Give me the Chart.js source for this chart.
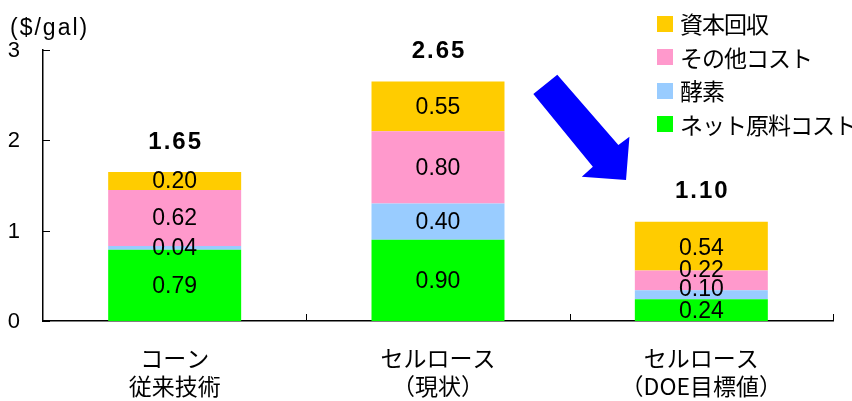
<!DOCTYPE html>
<html lang="ja">
<head>
<meta charset="utf-8">
<script src="https://cdn.jsdelivr.net/npm/chart.js@4/dist/chart.umd.min.js"></script>
<style>
  html, body {
    margin: 0;
    padding: 0;
    background: #fff;
  }
  .wrap {
    position: relative;
    width: 852px;
    height: 401px;
    overflow: hidden;
  }
  #costChart {
    position: absolute;
    left: 0;
    top: 0;
  }
  .unit {
    position: absolute;
    left: 10px;
    top: 15px;
    font: 23px "Liberation Sans", Arial, sans-serif;
    line-height: 24px;
    color: #000;
    letter-spacing: 2px;
    white-space: nowrap;
  }
  .legend {
    position: absolute;
    left: 657px;
    top: 7px;
    font: 23px "Noto Sans CJK JP", sans-serif;
    line-height: 33.5px;
    letter-spacing: -1px;
    color: #000;
    white-space: nowrap;
  }
  .legend-row {
    display: flex;
    align-items: center;
    height: 33.5px;
  }
  .legend-box {
    flex: none;
    width: 16px;
    height: 16px;
    margin-right: 7px;
  }
</style>
</head>
<body>
<div class="wrap">
  <canvas id="costChart" width="852" height="401"></canvas>
  <div class="unit">($/gal)</div>
  <div class="legend" id="legend"></div>
</div>

<script>
/* =====================================
   Data
===================================== */
const categories = [
  ["コーン", "従来技術"],
  ["セルロース", "（現状）"],
  ["セルロース", "（DOE目標値）"]
];

const seriesNames = ["ネット原料コスト", "酵素", "その他コスト", "資本回収"];

const feedstockCost = [0.79, 0.90, 0.24];
const enzymeCost = [0.04, 0.40, 0.10];
const otherCost = [0.62, 0.80, 0.22];
const capitalRecovery = [0.20, 0.55, 0.54];

const totals = [1.65, 2.65, 1.10];

const yTicks = [0, 1, 2, 3];

/* =====================================
   Styles
===================================== */
const seriesColors = ["#00ff00", "#99ccff", "#ff99cc", "#ffcc00"];

const numberFont = '"Liberation Sans", Arial, sans-serif';

// small manual nudges (px) where Excel labels were moved apart
const labelNudge = {
  "2-2": -11,
  "1-2": -6,
  "3-2": 2
};

// arrow outline in (category index, value) space
const arrowShape = [
  [1.362, 2.513], [1.453, 2.727], [1.685, 1.948], [1.727, 2.040],
  [1.714, 1.561], [1.546, 1.597], [1.588, 1.708]
];

/* =====================================
   Legend (html)
===================================== */
function buildLegend() {

  const legend = document.getElementById("legend");

  for (let i = seriesNames.length - 1; i >= 0; i--) {

    const row = document.createElement("div");
    row.className = "legend-row";

    const box = document.createElement("span");
    box.className = "legend-box";
    box.style.background = seriesColors[i];

    const text = document.createElement("span");
    text.textContent = seriesNames[i];

    row.appendChild(box);
    row.appendChild(text);
    legend.appendChild(row);
  }
}

/* =====================================
   Extras plugin: labels, ticks, arrow
===================================== */
const extrasPlugin = {

  id: "extras",

  afterDatasetsDraw(chart) {

    const ctx = chart.ctx;
    const xScale = chart.scales.x;
    const yScale = chart.scales.y;
    const area = chart.chartArea;

    ctx.save();

    /* segment values */
    ctx.fillStyle = "#000";
    ctx.textAlign = "center";
    ctx.textBaseline = "middle";
    ctx.font = "23px " + numberFont;

    chart.data.datasets.forEach((ds, di) => {

      const meta = chart.getDatasetMeta(di);

      meta.data.forEach((bar, i) => {

        const nudge = labelNudge[di + "-" + i] || 0;
        const cy = (bar.y + bar.base) / 2 + nudge;

        ctx.fillText(ds.data[i].toFixed(2), bar.x, cy + 1);
      });
    });

    /* totals */
    ctx.font = "bold 24px " + numberFont;
    if ("letterSpacing" in ctx) ctx.letterSpacing = "2px";

    totals.forEach((t, i) => {

      const x = xScale.getPixelForValue(i);
      const y = yScale.getPixelForValue(t) - 30;

      ctx.fillText(t.toFixed(2), x + 1, y);
    });

    if ("letterSpacing" in ctx) ctx.letterSpacing = "0px";

    /* inward tick marks */
    ctx.strokeStyle = "#000";
    ctx.lineWidth = 1;

    yTicks.forEach((v) => {

      const y = Math.round(yScale.getPixelForValue(v)) + 0.5;

      ctx.beginPath();
      ctx.moveTo(area.left, y);
      ctx.lineTo(area.left + 7, y);
      ctx.stroke();
    });

    for (let i = 1; i <= categories.length; i++) {

      const x = Math.round(xScale.getPixelForValue(i - 0.5)) + 0.5;

      ctx.beginPath();
      ctx.moveTo(x, area.bottom);
      ctx.lineTo(x, area.bottom - 7);
      ctx.stroke();
    }

    /* blue arrow */
    ctx.fillStyle = "#0000ff";
    ctx.beginPath();

    arrowShape.forEach((p, k) => {

      const px = xScale.getPixelForValue(p[0]);
      const py = yScale.getPixelForValue(p[1]);

      if (k === 0) ctx.moveTo(px, py);
      else ctx.lineTo(px, py);
    });

    ctx.closePath();
    ctx.fill();

    ctx.restore();
  }
};

/* =====================================
   Chart
===================================== */
function drawCostChart() {

  const canvas = document.getElementById("costChart");

  const seriesData = [feedstockCost, enzymeCost, otherCost, capitalRecovery];

  new Chart(canvas, {

    type: "bar",

    data: {

      labels: categories,

      datasets: seriesData.map((values, i) => ({
        label: seriesNames[i],
        data: values,
        backgroundColor: seriesColors[i],
        borderWidth: 0,
        barPercentage: 0.505,
        categoryPercentage: 1
      }))
    },

    options: {

      responsive: false,
      animation: false,

      layout: {
        padding: {
          top: 50,
          right: 19,
          bottom: 0,
          left: 0
        }
      },

      plugins: {
        legend: { display: false },
        tooltip: { enabled: false }
      },

      scales: {

        x: {

          stacked: true,

          grid: {
            display: false
          },

          border: {
            display: true,
            color: "#000",
            width: 1.5
          },

          ticks: {
            color: "#000",
            padding: 15,
            maxRotation: 0,
            autoSkip: false,
            font: {
              family: '"Noto Sans CJK JP", sans-serif',
              size: 23,
              lineHeight: 1.22
            }
          },

          afterFit(scale) {
            scale.height = 80;
          }
        },

        y: {

          stacked: true,
          min: yTicks[0],
          max: yTicks[yTicks.length - 1],

          grid: {
            display: false,
            drawTicks: false
          },

          border: {
            display: true,
            color: "#000",
            width: 1.5
          },

          ticks: {
            stepSize: 1,
            color: "#000",
            padding: 23,
            labelOffset: 1,
            font: {
              family: numberFont,
              size: 22
            }
          },

          afterFit(scale) {
            scale.width = 43;
          }
        }
      }
    },

    plugins: [extrasPlugin]
  });
}

document.addEventListener("DOMContentLoaded", () => {
  buildLegend();
  drawCostChart();
});
</script>
</body>
</html>
